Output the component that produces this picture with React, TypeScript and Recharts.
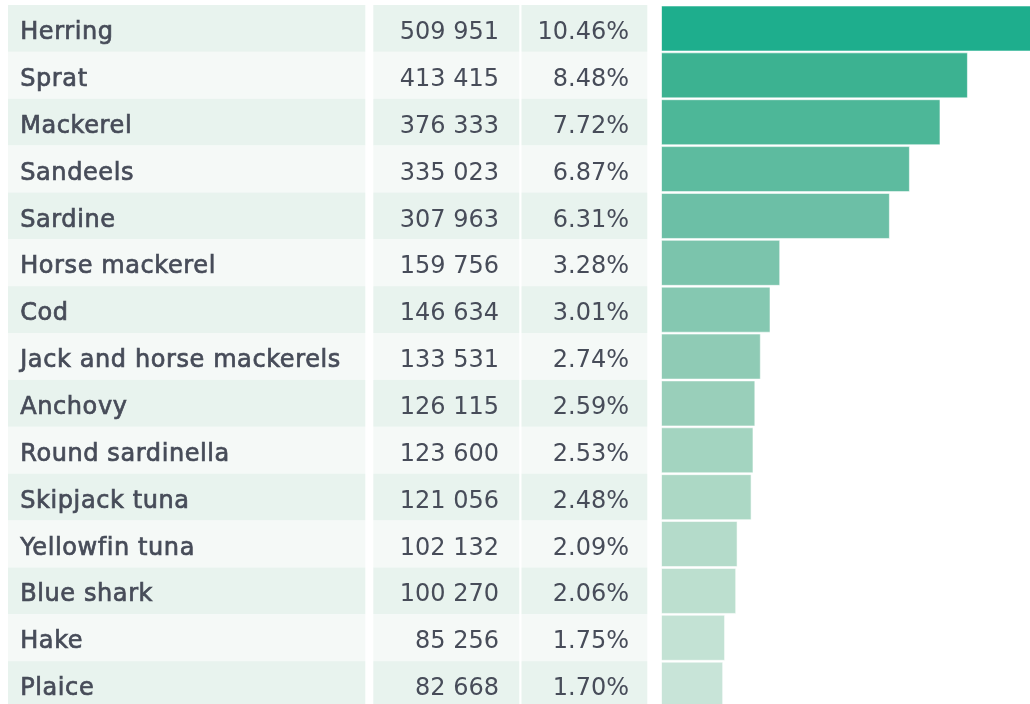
import React from 'react';
import { BarChart, Bar, XAxis, YAxis, Cell } from 'recharts';

const species = [
  'Herring', 'Sprat', 'Mackerel', 'Sandeels', 'Sardine', 'Horse mackerel', 'Cod',
  'Jack and horse mackerels', 'Anchovy', 'Round sardinella', 'Skipjack tuna',
  'Yellowfin tuna', 'Blue shark', 'Hake', 'Plaice',
];
const catches = [
  509951, 413415, 376333, 335023, 307963, 159756, 146634, 133531, 126115, 123600,
  121056, 102132, 100270, 85256, 82668,
];
const shares = [
  10.46, 8.48, 7.72, 6.87, 6.31, 3.28, 3.01, 2.74, 2.59, 2.53, 2.48, 2.09, 2.06, 1.75, 1.7,
];

const barColors = [
  '#1eae8d', '#3cb291', '#4db798', '#5dbb9f', '#6cbfa6', '#7bc4ac', '#85c8b1', '#8fcbb5',
  '#99cfba', '#a3d4c0', '#acd8c5', '#b4dbca', '#bcdfcf', '#c3e2d4', '#c8e4d8',
];

const data = species.map((name, i) => ({ name, value: catches[i], share: shares[i] }));

const W = 1022;
const H = 703;
const BAND = H / species.length;
const PLOT_LEFT = 653.5;
const TEXT = '#474c59';
const FONT = '"DejaVu Sans", sans-serif';

const fmt = (v: number) => String(v).replace(/\B(?=(\d{3})+(?!\d))/g, ' ');

const renderRow = (props: any) => {
  const { y, payload } = props;
  const i = species.indexOf(payload.value);
  const top = y - BAND / 2;
  const bg = i % 2 === 0 ? '#e8f3ee' : '#f5f9f7';
  const base = y + 10.6;
  return (
    <g key={payload.value}>
      <rect x={0} y={top} width={357.3} height={BAND} fill={bg} />
      <rect x={365.3} y={top} width={146} height={BAND} fill={bg} />
      <rect x={513.5} y={top} width={125.8} height={BAND} fill={bg} />
      <text x={12.2} y={base} fill={TEXT} stroke={TEXT} strokeWidth={0.7}
        fontFamily={FONT} fontSize={24} letterSpacing={0.6} textAnchor="start">{payload.value}</text>
      <text x={491} y={base} fill={TEXT} fontFamily={FONT} fontSize={24}
        textAnchor="end">{fmt(catches[i])}</text>
      <text x={621} y={base} fill={TEXT} fontFamily={FONT} fontSize={24}
        textAnchor="end">{shares[i].toFixed(2) + '%'}</text>
    </g>
  );
};

export default function App() {
  return (
    <div style={{ position: 'fixed', top: 5, left: 8, width: W, height: 699, overflow: 'hidden' }}>
      <BarChart
        width={W}
        height={H}
        data={data}
        layout="vertical"
        margin={{ top: 0, right: 0, bottom: 0, left: 0 }}
        barCategoryGap={1}
      >
        <XAxis type="number" hide domain={[0, 498000]} allowDataOverflow />
        <YAxis
          type="category"
          dataKey="name"
          width={PLOT_LEFT}
          axisLine={false}
          tickLine={false}
          interval={0}
          tick={renderRow}
        />
        <Bar dataKey="value" isAnimationActive={false} stroke="#ffffff" strokeOpacity={0.55} strokeWidth={1}>
          {data.map((d, i) => (
            <Cell key={d.name} fill={barColors[i]} />
          ))}
        </Bar>
      </BarChart>
    </div>
  );
}
